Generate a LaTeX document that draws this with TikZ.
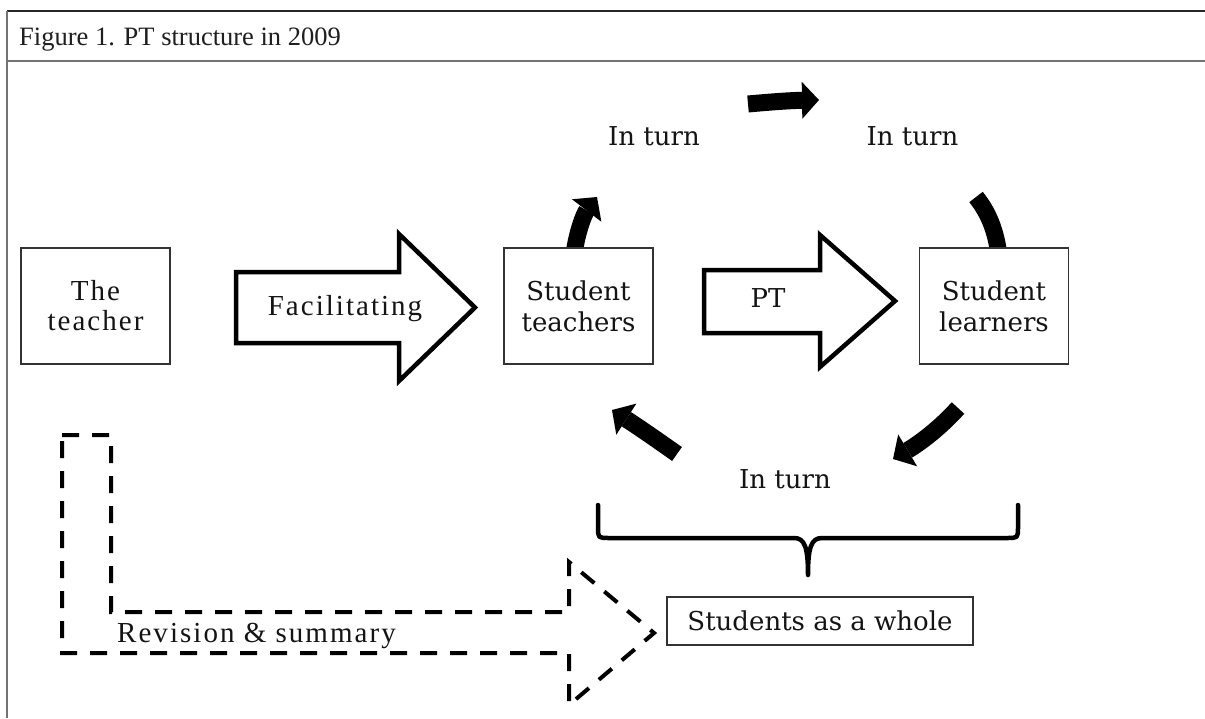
\documentclass[tikz,border=0pt]{standalone}
\usepackage{fontspec}
\setmainfont{Liberation Serif}
\newfontfamily\tmsfont{Liberation Serif}[LetterSpace=7]
\newfontfamily\djvfont{DejaVu Serif}
\usetikzlibrary{arrows.meta}

\begin{document}
\begin{tikzpicture}[x=1pt,y=-1pt,
  cellbox/.style={draw=black!80, line width=1.4pt, fill=white, inner sep=0pt, align=center},
  dvtext/.style={font=\djvfont\fontsize{26}{31}\selectfont, text=black!92},
  tmtext/.style={font=\tmsfont\fontsize{29}{30}\selectfont, text=black!92},
  blockarrow/.style={draw=black, line width=4.5pt, fill=white, line join=miter, miter limit=10},
  turnarrow/.style={draw=black, line width=17pt,
    -{Triangle[length=17pt,width=37pt,line width=0pt]}},
  bracestroke/.style={draw=black, line width=4.5pt, line cap=round, line join=round},
  dashstroke/.style={draw=black, line width=4pt, dash pattern=on 17pt off 13pt},
]

\useasboundingbox (0,0) rectangle (1205,718);
\fill[white] (0,0) rectangle (1205,718);

% table frame with its caption row
\draw[line width=1.5pt, black!85] (7,11) -- (1205,11);
\draw[line width=2pt, black!55] (7,61) -- (1205,61);
\draw[line width=1.5pt, black!55] (7,11) -- (7,718);
\node[anchor=base west, inner sep=0pt, text=black!88,
      font=\fontsize{26.5}{30}\selectfont] (title) at (19,45)
      {Figure 1. PT structure in 2009};

% the "in turn" cycle: thick curved arrows, partly hidden by the boxes
\coordinate (upS) at (574,254);   \coordinate (upE) at (597,197);
\coordinate (topS) at (748,104);  \coordinate (topE) at (819,100);
\coordinate (dnS) at (976,197);   \coordinate (dnE) at (999,256);
\coordinate (brS) at (958,408);   \coordinate (brE) at (893,459);
\coordinate (blS) at (677,454);   \coordinate (blE) at (612,410);

\draw[turnarrow] (upS) .. controls (577,232) and (584,214) .. (upE);
\draw[turnarrow] (topS) .. controls (770,102) and (790,100.5) .. (topE);
\draw[draw=black, line width=17pt] (dnS) .. controls (988,212) and (996,230) .. (dnE);
\draw[turnarrow] (brS) .. controls (940,428) and (920,443) .. (brE);
\draw[turnarrow] (blS) .. controls (660,442) and (640,428) .. (blE);

% the three boxes of the main row
\node[cellbox, tmtext, minimum width=149pt, minimum height=116pt] (teacher) at (95.5,306)
  {The\\teacher};
\node[cellbox, dvtext, minimum width=149pt, minimum height=116pt] (st) at (578.5,306)
  {Student\\teachers};
\node[cellbox, dvtext, minimum width=149pt, minimum height=116pt] (sl) at (994,306)
  {Student\\learners};

% block arrows between the boxes
\draw[blockarrow] (236,272) -- (399,272) -- (399,234) -- (475,307.5)
  -- (399,381) -- (399,343) -- (236,343) -- cycle;
\node[tmtext, anchor=base, inner sep=0pt] (faclab) at (345,315) {Facilitating};

\draw[blockarrow] (704,270) -- (820,270) -- (820,235) -- (895,301)
  -- (820,367) -- (820,333) -- (704,333) -- cycle;
\node[dvtext, anchor=base, inner sep=0pt] (ptlab) at (768,307) {PT};

% "In turn" labels
\node[dvtext, anchor=base, inner sep=0pt] (turn1) at (654,145) {In turn};
\node[dvtext, anchor=base, inner sep=0pt] (turn2) at (912.5,145) {In turn};
\node[dvtext, anchor=base, inner sep=0pt] (turn3) at (785,488) {In turn};

% the whole class
\node[cellbox, dvtext, minimum width=306pt, minimum height=48pt] (whole) at (820,621)
  {Students as a whole};

% brace gathering the cycle onto the whole class
\draw[bracestroke] (598,505) -- (598,527) .. controls (598,538) .. (609,538)
  -- (794,538) .. controls (805,538) and (808,548) .. (808,575)
  .. controls (808,548) and (811,538) .. (822,538)
  -- (1007,538) .. controls (1018,538) .. (1018,527) -- (1018,505);

% dashed bent arrow for revision and summary
\draw[dashstroke] (62,435) -- (111,435) -- (111,612) -- (569,612) -- (569,562)
  -- (654,633) -- (569,705) -- (569,653) -- (62,653) -- cycle;
\node[tmtext, anchor=base west, inner sep=0pt] (revlab) at (117,642) {Revision \& summary};

\end{tikzpicture}
\end{document}
